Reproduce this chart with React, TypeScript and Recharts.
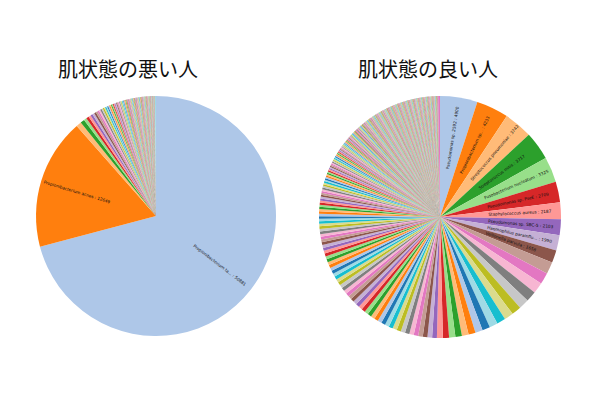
import { PieChart, Pie, Cell } from "recharts"

// tab20 palette, starting from the light blue like the source chart
const palette = [
    '#aec7e8', '#ff7f0e', '#ffbb78', '#2ca02c', '#98df8a', '#d62728', '#ff9896',
    '#9467bd', '#c5b0d5', '#8c564b', '#c49c94', '#e377c2', '#f7b6d2', '#7f7f7f',
    '#c7c7c7', '#bcbd22', '#dbdb8d', '#17becf', '#9edae5', '#1f77b4'
];

const titles = ['肌状態の悪い人', '肌状態の良い人'];

// left pie: bad skin
const leftNames = ['Propionibacterium ta...', 'Propionibacterium acnes'];
const leftTop = [50881, 12649];
const leftMid = [
    500, 400, 270, 260, 230, 210, 195, 180, 170, 160, 150, 140, 132, 125, 118, 112, 106, 100,
    98, 96, 94, 92, 90, 88, 86, 84, 82, 80, 78, 76, 74, 72, 70, 68, 66, 64, 62, 60,
    58, 56, 54, 52, 50, 48, 46, 44, 42, 40
];
const leftTail = [
    40, 39, 38, 38, 38, 38, 37, 37, 37, 36, 36, 36, 36, 35, 35, 35, 34, 34, 34, 34,
    33, 33, 33, 33, 32, 32, 32, 32, 31, 31, 31, 30, 30, 29, 29, 28, 28, 27, 27, 26,
    26, 26, 25, 25, 25, 24, 24, 24, 23, 23, 23, 22, 22, 22, 21, 21, 21, 20, 20, 20,
    19, 19, 19, 18, 18, 18, 17, 17, 17, 16, 16, 16, 15, 15, 15, 14, 14, 14, 14, 13,
    13, 13, 13, 12, 12, 12, 12, 11, 11, 11, 11, 10, 10, 10, 10, 10, 9, 9, 9, 9,
    9, 9, 8, 8, 8, 8, 8, 8, 7, 7, 7, 7, 7, 7, 6, 6, 6, 6, 6, 6,
    5, 5, 5, 5, 5, 5, 5, 5, 100
];

// right pie: good skin
const rightNames = [
    'Pseudomonas sp. 2592', 'Propionibacterium sp...', 'Streptococcus pneumoniae',
    'Streptococcus mitis', 'Fusobacterium nucleatum', 'Pseudomonas sp. PseE',
    'Staphylococcus aureus', 'Pseudomonas sp. SBC-5', 'Haemophilus parainflu...',
    'Veillonella parvula'
];
const rightTop = [4900, 4233, 3742, 3717, 3325, 2709, 2187, 2103, 1990, 1658];
const rightMid = [
    1560, 1500, 1440, 1380, 1320, 1260, 1200, 1140, 1080, 1020, 960, 920, 880, 850, 820, 800, 780,
    620, 611, 604, 598, 590, 583, 577, 570, 562, 556,
    549, 543, 536, 530, 523, 517, 511, 504, 498, 492,
    486, 480, 474, 468, 462, 456, 451, 445, 440, 434,
    429, 423, 418, 413, 408, 402, 397, 392, 387, 382,
    377, 372, 367, 362, 357, 352, 347, 342, 338, 333,
    328, 323, 318, 314, 309
];
const rightLow = [
    295, 288, 281, 275, 268, 262, 256, 250, 244, 238,
    233, 227, 222, 217, 212, 207, 202, 197, 193, 188,
    184, 180, 176, 172, 168, 164, 160, 157, 153, 150,
    147, 144, 141, 138, 135, 132, 129, 126, 124, 121,
    119, 116, 114, 112, 110, 108, 106, 104, 102, 100,
    99, 98, 97, 96, 95, 94, 93, 92, 91, 90,
    89, 88, 87, 86, 85, 84, 83, 82, 81, 80,
    79, 79, 78, 78, 77, 77, 76, 76, 75, 75,
    74, 74, 73, 73, 72, 72, 71, 71, 70, 70
];
const rightTail = [
    69, 68, 67, 66, 65, 64, 63, 62, 62, 61, 61, 60, 60, 59, 59, 58, 58, 57, 57, 56,
    56, 56, 55, 55, 55, 54, 54, 54, 53, 53, 53, 52, 52, 52, 51, 51, 51, 50, 50, 50,
    49, 49, 49, 49, 48, 48, 48, 48, 47, 47, 47, 47, 46, 46, 46, 46, 45, 45, 45, 45,
    44, 44, 44, 44, 44, 43, 43, 43, 43, 43, 42, 42, 42, 42, 42, 41, 41, 41, 41, 41,
    40, 40, 40, 40, 40, 40, 40, 40, 40, 40, 39, 39, 39, 39, 39, 39, 39, 39, 39, 39,
    38, 38, 38, 38, 38, 38, 38, 38, 38, 38, 37, 37, 37, 37, 37, 37, 37, 37, 37, 37,
    37, 37, 37, 37, 37, 37, 37, 37, 37, 37, 36, 36, 36, 36, 36, 36, 36, 36, 36, 36,
    36, 36, 36, 36, 36, 36, 36, 36, 36, 36, 35, 35, 35, 35, 35, 35, 35, 35, 35, 35,
    35, 35, 35, 35, 35, 35, 35, 35, 35, 35, 34, 34, 34, 34, 34, 34, 34, 34, 34, 34,
    34, 34, 34, 34, 34, 34, 34, 34, 34, 34, 33, 33, 33, 33, 33, 33, 33, 33, 33, 33,
    33, 33, 33, 33, 33, 33, 33, 33, 33, 33, 32, 32, 32, 32, 32, 32, 32, 32, 32, 32,
    32, 32, 32, 32, 32, 32, 32, 32, 32, 32, 31, 31, 31, 31, 31, 31, 31, 31, 31, 31,
    31, 31, 31, 31, 31, 31, 31, 31, 31, 31, 30, 30, 30, 30, 30, 30, 30, 30, 30, 30,
    30, 30, 30, 30, 30, 30, 30, 30, 30, 30, 29, 29, 29, 29, 29, 29, 29, 29, 29, 29,
    29, 29, 29, 29, 29, 29, 29, 29, 29, 29, 28, 28, 28, 28, 28, 28, 28, 28, 28,
    240
];

const toData = (names: string[], values: number[]) =>
    values.map((v, i) => ({ name: names[i] ?? '', value: v }));

const leftData = toData(leftNames, [...leftTop, ...leftMid, ...leftTail]);
const rightData = toData(rightNames, [...rightTop, ...rightMid, ...rightLow, ...rightTail]);

const RADIAN = Math.PI / 180;

// rotated labels along the radius, like matplotlib's rotatelabels
const makeLabel = (count: number) => (props: any) => {
    const { cx, cy, midAngle, outerRadius, index, name, value } = props;
    if (index >= count) return null;
    const r = outerRadius * 0.4;
    const cos = Math.cos(-midAngle * RADIAN);
    const x = cx + r * cos;
    const y = cy + r * Math.sin(-midAngle * RADIAN);
    const right = cos >= 0;
    const rot = right ? -midAngle : 180 - midAngle;
    return (
        <text
            x={x}
            y={y}
            transform={`rotate(${rot} ${x} ${y})`}
            textAnchor={right ? 'start' : 'end'}
            dominantBaseline="central"
            fontSize={4.2}
            fontFamily="DejaVu Sans"
            fill="#111"
        >
            {`${name} : ${value}`}
        </text>
    );
};

const titleStyle = {
    position: 'absolute' as const,
    top: 56,
    width: 200,
    textAlign: 'center' as const,
    fontFamily: '"Noto Sans CJK JP", sans-serif',
    fontSize: 20,
    lineHeight: '26px',
    color: '#111',
};

export default function App() {
    return (
        <div style={{ position: 'absolute', left: 0, top: 0, width: 600, height: 400, background: '#fff' }}>
            <div style={{ ...titleStyle, left: 28 }}>{titles[0]}</div>
            <div style={{ ...titleStyle, left: 328 }}>{titles[1]}</div>
            <PieChart width={600} height={400} margin={{ top: 0, right: 0, bottom: 0, left: 0 }}>
                <Pie
                    data={leftData}
                    dataKey="value"
                    nameKey="name"
                    cx={156}
                    cy={216}
                    outerRadius={120}
                    startAngle={90}
                    endAngle={-270}
                    stroke="none"
                    label={makeLabel(leftNames.length)}
                    labelLine={false}
                    isAnimationActive={false}
                >
                    {leftData.map((_, i) => (
                        <Cell key={i} fill={palette[i % palette.length]} />
                    ))}
                </Pie>
                <Pie
                    data={rightData}
                    dataKey="value"
                    nameKey="name"
                    cx={440}
                    cy={217}
                    outerRadius={121}
                    startAngle={90}
                    endAngle={-270}
                    stroke="none"
                    label={makeLabel(rightNames.length)}
                    labelLine={false}
                    isAnimationActive={false}
                >
                    {rightData.map((_, i) => (
                        <Cell key={i} fill={palette[i % palette.length]} />
                    ))}
                </Pie>
            </PieChart>
        </div>
    )
}
